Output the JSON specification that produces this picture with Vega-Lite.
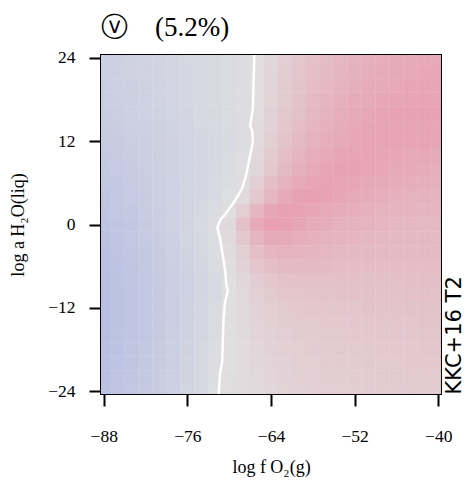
{
"$schema": "https://vega.github.io/schema/vega-lite/v6.json",
"width": 340, "height": 339,
"autosize": {"type": "none"},
"padding": {"left": 101, "top": 55, "right": 26, "bottom": 86},
"background": "white",
"title": {"text": "ⓥ\u2003(5.2%)", "anchor": "start", "frame": "group", "fontSize": 27, "font": "Liberation Serif, DejaVu Sans", "fontWeight": "normal", "color": "black", "offset": 7},
"config": {"view": {"stroke": "black", "strokeWidth": 2}, "axis": {"grid": false, "domain": false, "tickColor": "black", "tickWidth": 2, "tickSize": 12, "labelColor": "black", "labelFont": "Liberation Serif", "labelFontSize": 17.5, "titleColor": "black", "titleFont": "Liberation Serif", "titleFontSize": 18, "titleFontWeight": "normal"}},
"layer": [
{"data": {"values": [
{"x":-88,"y":24,"v":-0.50},{"x":-86,"y":24,"v":-0.47},{"x":-84,"y":24,"v":-0.43},{"x":-82,"y":24,"v":-0.40},{"x":-80,"y":24,"v":-0.36},{"x":-78,"y":24,"v":-0.32},{"x":-76,"y":24,"v":-0.28},{"x":-74,"y":24,"v":-0.24},{"x":-72,"y":24,"v":-0.19},{"x":-70,"y":24,"v":-0.14},{"x":-68,"y":24,"v":-0.08},{"x":-66,"y":24,"v":0.03},{"x":-64,"y":24,"v":0.14},{"x":-62,"y":24,"v":0.26},{"x":-60,"y":24,"v":0.36},{"x":-58,"y":24,"v":0.45},{"x":-56,"y":24,"v":0.53},{"x":-54,"y":24,"v":0.60},{"x":-52,"y":24,"v":0.66},{"x":-50,"y":24,"v":0.71},{"x":-48,"y":24,"v":0.75},{"x":-46,"y":24,"v":0.78},{"x":-44,"y":24,"v":0.80},{"x":-42,"y":24,"v":0.81},{"x":-40,"y":24,"v":0.82},
{"x":-88,"y":22,"v":-0.52},{"x":-86,"y":22,"v":-0.49},{"x":-84,"y":22,"v":-0.45},{"x":-82,"y":22,"v":-0.41},{"x":-80,"y":22,"v":-0.38},{"x":-78,"y":22,"v":-0.34},{"x":-76,"y":22,"v":-0.29},{"x":-74,"y":22,"v":-0.25},{"x":-72,"y":22,"v":-0.20},{"x":-70,"y":22,"v":-0.15},{"x":-68,"y":22,"v":-0.08},{"x":-66,"y":22,"v":0.03},{"x":-64,"y":22,"v":0.16},{"x":-62,"y":22,"v":0.28},{"x":-60,"y":22,"v":0.39},{"x":-58,"y":22,"v":0.48},{"x":-56,"y":22,"v":0.56},{"x":-54,"y":22,"v":0.63},{"x":-52,"y":22,"v":0.69},{"x":-50,"y":22,"v":0.74},{"x":-48,"y":22,"v":0.78},{"x":-46,"y":22,"v":0.81},{"x":-44,"y":22,"v":0.83},{"x":-42,"y":22,"v":0.84},{"x":-40,"y":22,"v":0.84},
{"x":-88,"y":20,"v":-0.54},{"x":-86,"y":20,"v":-0.50},{"x":-84,"y":20,"v":-0.47},{"x":-82,"y":20,"v":-0.43},{"x":-80,"y":20,"v":-0.39},{"x":-78,"y":20,"v":-0.35},{"x":-76,"y":20,"v":-0.30},{"x":-74,"y":20,"v":-0.26},{"x":-72,"y":20,"v":-0.21},{"x":-70,"y":20,"v":-0.15},{"x":-68,"y":20,"v":-0.08},{"x":-66,"y":20,"v":0.03},{"x":-64,"y":20,"v":0.17},{"x":-62,"y":20,"v":0.30},{"x":-60,"y":20,"v":0.41},{"x":-58,"y":20,"v":0.51},{"x":-56,"y":20,"v":0.59},{"x":-54,"y":20,"v":0.66},{"x":-52,"y":20,"v":0.72},{"x":-50,"y":20,"v":0.76},{"x":-48,"y":20,"v":0.80},{"x":-46,"y":20,"v":0.83},{"x":-44,"y":20,"v":0.85},{"x":-42,"y":20,"v":0.86},{"x":-40,"y":20,"v":0.86},
{"x":-88,"y":18,"v":-0.56},{"x":-86,"y":18,"v":-0.52},{"x":-84,"y":18,"v":-0.48},{"x":-82,"y":18,"v":-0.44},{"x":-80,"y":18,"v":-0.40},{"x":-78,"y":18,"v":-0.36},{"x":-76,"y":18,"v":-0.31},{"x":-74,"y":18,"v":-0.27},{"x":-72,"y":18,"v":-0.21},{"x":-70,"y":18,"v":-0.15},{"x":-68,"y":18,"v":-0.08},{"x":-66,"y":18,"v":0.04},{"x":-64,"y":18,"v":0.19},{"x":-62,"y":18,"v":0.33},{"x":-60,"y":18,"v":0.44},{"x":-58,"y":18,"v":0.55},{"x":-56,"y":18,"v":0.63},{"x":-54,"y":18,"v":0.70},{"x":-52,"y":18,"v":0.76},{"x":-50,"y":18,"v":0.80},{"x":-48,"y":18,"v":0.84},{"x":-46,"y":18,"v":0.86},{"x":-44,"y":18,"v":0.88},{"x":-42,"y":18,"v":0.88},{"x":-40,"y":18,"v":0.88},
{"x":-88,"y":16,"v":-0.58},{"x":-86,"y":16,"v":-0.54},{"x":-84,"y":16,"v":-0.50},{"x":-82,"y":16,"v":-0.46},{"x":-80,"y":16,"v":-0.42},{"x":-78,"y":16,"v":-0.37},{"x":-76,"y":16,"v":-0.32},{"x":-74,"y":16,"v":-0.27},{"x":-72,"y":16,"v":-0.22},{"x":-70,"y":16,"v":-0.16},{"x":-68,"y":16,"v":-0.08},{"x":-66,"y":16,"v":0.05},{"x":-64,"y":16,"v":0.20},{"x":-62,"y":16,"v":0.35},{"x":-60,"y":16,"v":0.47},{"x":-58,"y":16,"v":0.58},{"x":-56,"y":16,"v":0.67},{"x":-54,"y":16,"v":0.74},{"x":-52,"y":16,"v":0.80},{"x":-50,"y":16,"v":0.84},{"x":-48,"y":16,"v":0.87},{"x":-46,"y":16,"v":0.89},{"x":-44,"y":16,"v":0.90},{"x":-42,"y":16,"v":0.90},{"x":-40,"y":16,"v":0.89},
{"x":-88,"y":14,"v":-0.61},{"x":-86,"y":14,"v":-0.57},{"x":-84,"y":14,"v":-0.53},{"x":-82,"y":14,"v":-0.48},{"x":-80,"y":14,"v":-0.44},{"x":-78,"y":14,"v":-0.39},{"x":-76,"y":14,"v":-0.34},{"x":-74,"y":14,"v":-0.28},{"x":-72,"y":14,"v":-0.23},{"x":-70,"y":14,"v":-0.16},{"x":-68,"y":14,"v":-0.08},{"x":-66,"y":14,"v":0.06},{"x":-64,"y":14,"v":0.22},{"x":-62,"y":14,"v":0.38},{"x":-60,"y":14,"v":0.51},{"x":-58,"y":14,"v":0.62},{"x":-56,"y":14,"v":0.70},{"x":-54,"y":14,"v":0.77},{"x":-52,"y":14,"v":0.82},{"x":-50,"y":14,"v":0.86},{"x":-48,"y":14,"v":0.88},{"x":-46,"y":14,"v":0.88},{"x":-44,"y":14,"v":0.88},{"x":-42,"y":14,"v":0.88},{"x":-40,"y":14,"v":0.87},
{"x":-88,"y":12,"v":-0.64},{"x":-86,"y":12,"v":-0.60},{"x":-84,"y":12,"v":-0.56},{"x":-82,"y":12,"v":-0.51},{"x":-80,"y":12,"v":-0.46},{"x":-78,"y":12,"v":-0.41},{"x":-76,"y":12,"v":-0.36},{"x":-74,"y":12,"v":-0.30},{"x":-72,"y":12,"v":-0.24},{"x":-70,"y":12,"v":-0.17},{"x":-68,"y":12,"v":-0.08},{"x":-66,"y":12,"v":0.08},{"x":-64,"y":12,"v":0.25},{"x":-62,"y":12,"v":0.42},{"x":-60,"y":12,"v":0.55},{"x":-58,"y":12,"v":0.66},{"x":-56,"y":12,"v":0.74},{"x":-54,"y":12,"v":0.80},{"x":-52,"y":12,"v":0.84},{"x":-50,"y":12,"v":0.87},{"x":-48,"y":12,"v":0.88},{"x":-46,"y":12,"v":0.88},{"x":-44,"y":12,"v":0.87},{"x":-42,"y":12,"v":0.86},{"x":-40,"y":12,"v":0.85},
{"x":-88,"y":10,"v":-0.67},{"x":-86,"y":10,"v":-0.63},{"x":-84,"y":10,"v":-0.58},{"x":-82,"y":10,"v":-0.53},{"x":-80,"y":10,"v":-0.48},{"x":-78,"y":10,"v":-0.42},{"x":-76,"y":10,"v":-0.37},{"x":-74,"y":10,"v":-0.30},{"x":-72,"y":10,"v":-0.24},{"x":-70,"y":10,"v":-0.16},{"x":-68,"y":10,"v":-0.06},{"x":-66,"y":10,"v":0.12},{"x":-64,"y":10,"v":0.30},{"x":-62,"y":10,"v":0.49},{"x":-60,"y":10,"v":0.62},{"x":-58,"y":10,"v":0.73},{"x":-56,"y":10,"v":0.80},{"x":-54,"y":10,"v":0.85},{"x":-52,"y":10,"v":0.87},{"x":-50,"y":10,"v":0.87},{"x":-48,"y":10,"v":0.86},{"x":-46,"y":10,"v":0.84},{"x":-44,"y":10,"v":0.83},{"x":-42,"y":10,"v":0.82},{"x":-40,"y":10,"v":0.80},
{"x":-88,"y":8,"v":-0.71},{"x":-86,"y":8,"v":-0.66},{"x":-84,"y":8,"v":-0.61},{"x":-82,"y":8,"v":-0.55},{"x":-80,"y":8,"v":-0.49},{"x":-78,"y":8,"v":-0.43},{"x":-76,"y":8,"v":-0.37},{"x":-74,"y":8,"v":-0.30},{"x":-72,"y":8,"v":-0.22},{"x":-70,"y":8,"v":-0.13},{"x":-68,"y":8,"v":-0.02},{"x":-66,"y":8,"v":0.15},{"x":-64,"y":8,"v":0.35},{"x":-62,"y":8,"v":0.55},{"x":-60,"y":8,"v":0.70},{"x":-58,"y":8,"v":0.80},{"x":-56,"y":8,"v":0.86},{"x":-54,"y":8,"v":0.89},{"x":-52,"y":8,"v":0.89},{"x":-50,"y":8,"v":0.87},{"x":-48,"y":8,"v":0.84},{"x":-46,"y":8,"v":0.81},{"x":-44,"y":8,"v":0.79},{"x":-42,"y":8,"v":0.77},{"x":-40,"y":8,"v":0.75},
{"x":-88,"y":6,"v":-0.75},{"x":-86,"y":6,"v":-0.69},{"x":-84,"y":6,"v":-0.64},{"x":-82,"y":6,"v":-0.58},{"x":-80,"y":6,"v":-0.51},{"x":-78,"y":6,"v":-0.44},{"x":-76,"y":6,"v":-0.37},{"x":-74,"y":6,"v":-0.29},{"x":-72,"y":6,"v":-0.21},{"x":-70,"y":6,"v":-0.10},{"x":-68,"y":6,"v":0.06},{"x":-66,"y":6,"v":0.25},{"x":-64,"y":6,"v":0.48},{"x":-62,"y":6,"v":0.68},{"x":-60,"y":6,"v":0.80},{"x":-58,"y":6,"v":0.87},{"x":-56,"y":6,"v":0.88},{"x":-54,"y":6,"v":0.87},{"x":-52,"y":6,"v":0.84},{"x":-50,"y":6,"v":0.82},{"x":-48,"y":6,"v":0.78},{"x":-46,"y":6,"v":0.76},{"x":-44,"y":6,"v":0.74},{"x":-42,"y":6,"v":0.72},{"x":-40,"y":6,"v":0.70},
{"x":-88,"y":4,"v":-0.79},{"x":-86,"y":4,"v":-0.73},{"x":-84,"y":4,"v":-0.66},{"x":-82,"y":4,"v":-0.60},{"x":-80,"y":4,"v":-0.53},{"x":-78,"y":4,"v":-0.45},{"x":-76,"y":4,"v":-0.37},{"x":-74,"y":4,"v":-0.29},{"x":-72,"y":4,"v":-0.18},{"x":-70,"y":4,"v":-0.04},{"x":-68,"y":4,"v":0.10},{"x":-66,"y":4,"v":0.35},{"x":-64,"y":4,"v":0.60},{"x":-62,"y":4,"v":0.80},{"x":-60,"y":4,"v":0.90},{"x":-58,"y":4,"v":0.93},{"x":-56,"y":4,"v":0.90},{"x":-54,"y":4,"v":0.85},{"x":-52,"y":4,"v":0.80},{"x":-50,"y":4,"v":0.76},{"x":-48,"y":4,"v":0.73},{"x":-46,"y":4,"v":0.70},{"x":-44,"y":4,"v":0.68},{"x":-42,"y":4,"v":0.66},{"x":-40,"y":4,"v":0.65},
{"x":-88,"y":2,"v":-0.83},{"x":-86,"y":2,"v":-0.76},{"x":-84,"y":2,"v":-0.69},{"x":-82,"y":2,"v":-0.62},{"x":-80,"y":2,"v":-0.54},{"x":-78,"y":2,"v":-0.45},{"x":-76,"y":2,"v":-0.36},{"x":-74,"y":2,"v":-0.26},{"x":-72,"y":2,"v":-0.14},{"x":-70,"y":2,"v":0.05},{"x":-68,"y":2,"v":0.27},{"x":-66,"y":2,"v":0.60},{"x":-64,"y":2,"v":0.85},{"x":-62,"y":2,"v":0.92},{"x":-60,"y":2,"v":0.90},{"x":-58,"y":2,"v":0.86},{"x":-56,"y":2,"v":0.82},{"x":-54,"y":2,"v":0.77},{"x":-52,"y":2,"v":0.73},{"x":-50,"y":2,"v":0.70},{"x":-48,"y":2,"v":0.68},{"x":-46,"y":2,"v":0.66},{"x":-44,"y":2,"v":0.64},{"x":-42,"y":2,"v":0.62},{"x":-40,"y":2,"v":0.62},
{"x":-88,"y":0,"v":-0.87},{"x":-86,"y":0,"v":-0.80},{"x":-84,"y":0,"v":-0.72},{"x":-82,"y":0,"v":-0.63},{"x":-80,"y":0,"v":-0.55},{"x":-78,"y":0,"v":-0.45},{"x":-76,"y":0,"v":-0.35},{"x":-74,"y":0,"v":-0.23},{"x":-72,"y":0,"v":-0.08},{"x":-70,"y":0,"v":0.12},{"x":-68,"y":0,"v":0.45},{"x":-66,"y":0,"v":0.78},{"x":-64,"y":0,"v":0.95},{"x":-62,"y":0,"v":0.92},{"x":-60,"y":0,"v":0.85},{"x":-58,"y":0,"v":0.78},{"x":-56,"y":0,"v":0.73},{"x":-54,"y":0,"v":0.69},{"x":-52,"y":0,"v":0.66},{"x":-50,"y":0,"v":0.64},{"x":-48,"y":0,"v":0.62},{"x":-46,"y":0,"v":0.61},{"x":-44,"y":0,"v":0.60},{"x":-42,"y":0,"v":0.59},{"x":-40,"y":0,"v":0.58},
{"x":-88,"y":-2,"v":-0.90},{"x":-86,"y":-2,"v":-0.82},{"x":-84,"y":-2,"v":-0.74},{"x":-82,"y":-2,"v":-0.66},{"x":-80,"y":-2,"v":-0.57},{"x":-78,"y":-2,"v":-0.47},{"x":-76,"y":-2,"v":-0.37},{"x":-74,"y":-2,"v":-0.25},{"x":-72,"y":-2,"v":-0.10},{"x":-70,"y":-2,"v":0.09},{"x":-68,"y":-2,"v":0.35},{"x":-66,"y":-2,"v":0.63},{"x":-64,"y":-2,"v":0.78},{"x":-62,"y":-2,"v":0.79},{"x":-60,"y":-2,"v":0.75},{"x":-58,"y":-2,"v":0.70},{"x":-56,"y":-2,"v":0.66},{"x":-54,"y":-2,"v":0.64},{"x":-52,"y":-2,"v":0.62},{"x":-50,"y":-2,"v":0.60},{"x":-48,"y":-2,"v":0.58},{"x":-46,"y":-2,"v":0.58},{"x":-44,"y":-2,"v":0.58},{"x":-42,"y":-2,"v":0.57},{"x":-40,"y":-2,"v":0.56},
{"x":-88,"y":-4,"v":-0.93},{"x":-86,"y":-4,"v":-0.85},{"x":-84,"y":-4,"v":-0.77},{"x":-82,"y":-4,"v":-0.69},{"x":-80,"y":-4,"v":-0.60},{"x":-78,"y":-4,"v":-0.50},{"x":-76,"y":-4,"v":-0.40},{"x":-74,"y":-4,"v":-0.28},{"x":-72,"y":-4,"v":-0.13},{"x":-70,"y":-4,"v":0.06},{"x":-68,"y":-4,"v":0.25},{"x":-66,"y":-4,"v":0.48},{"x":-64,"y":-4,"v":0.62},{"x":-62,"y":-4,"v":0.66},{"x":-60,"y":-4,"v":0.65},{"x":-58,"y":-4,"v":0.62},{"x":-56,"y":-4,"v":0.60},{"x":-54,"y":-4,"v":0.58},{"x":-52,"y":-4,"v":0.57},{"x":-50,"y":-4,"v":0.56},{"x":-48,"y":-4,"v":0.55},{"x":-46,"y":-4,"v":0.55},{"x":-44,"y":-4,"v":0.55},{"x":-42,"y":-4,"v":0.55},{"x":-40,"y":-4,"v":0.54},
{"x":-88,"y":-6,"v":-0.95},{"x":-86,"y":-6,"v":-0.87},{"x":-84,"y":-6,"v":-0.79},{"x":-82,"y":-6,"v":-0.71},{"x":-80,"y":-6,"v":-0.62},{"x":-78,"y":-6,"v":-0.52},{"x":-76,"y":-6,"v":-0.42},{"x":-74,"y":-6,"v":-0.30},{"x":-72,"y":-6,"v":-0.16},{"x":-70,"y":-6,"v":0.04},{"x":-68,"y":-6,"v":0.20},{"x":-66,"y":-6,"v":0.38},{"x":-64,"y":-6,"v":0.50},{"x":-62,"y":-6,"v":0.55},{"x":-60,"y":-6,"v":0.56},{"x":-58,"y":-6,"v":0.54},{"x":-56,"y":-6,"v":0.54},{"x":-54,"y":-6,"v":0.52},{"x":-52,"y":-6,"v":0.52},{"x":-50,"y":-6,"v":0.52},{"x":-48,"y":-6,"v":0.51},{"x":-46,"y":-6,"v":0.51},{"x":-44,"y":-6,"v":0.52},{"x":-42,"y":-6,"v":0.52},{"x":-40,"y":-6,"v":0.51},
{"x":-88,"y":-8,"v":-0.97},{"x":-86,"y":-8,"v":-0.89},{"x":-84,"y":-8,"v":-0.81},{"x":-82,"y":-8,"v":-0.73},{"x":-80,"y":-8,"v":-0.64},{"x":-78,"y":-8,"v":-0.54},{"x":-76,"y":-8,"v":-0.44},{"x":-74,"y":-8,"v":-0.32},{"x":-72,"y":-8,"v":-0.19},{"x":-70,"y":-8,"v":0.02},{"x":-68,"y":-8,"v":0.14},{"x":-66,"y":-8,"v":0.28},{"x":-64,"y":-8,"v":0.38},{"x":-62,"y":-8,"v":0.44},{"x":-60,"y":-8,"v":0.46},{"x":-58,"y":-8,"v":0.47},{"x":-56,"y":-8,"v":0.47},{"x":-54,"y":-8,"v":0.47},{"x":-52,"y":-8,"v":0.47},{"x":-50,"y":-8,"v":0.47},{"x":-48,"y":-8,"v":0.47},{"x":-46,"y":-8,"v":0.47},{"x":-44,"y":-8,"v":0.48},{"x":-42,"y":-8,"v":0.48},{"x":-40,"y":-8,"v":0.48},
{"x":-88,"y":-10,"v":-0.99},{"x":-86,"y":-10,"v":-0.91},{"x":-84,"y":-10,"v":-0.83},{"x":-82,"y":-10,"v":-0.74},{"x":-80,"y":-10,"v":-0.65},{"x":-78,"y":-10,"v":-0.55},{"x":-76,"y":-10,"v":-0.44},{"x":-74,"y":-10,"v":-0.33},{"x":-72,"y":-10,"v":-0.19},{"x":-70,"y":-10,"v":0.02},{"x":-68,"y":-10,"v":0.12},{"x":-66,"y":-10,"v":0.24},{"x":-64,"y":-10,"v":0.32},{"x":-62,"y":-10,"v":0.38},{"x":-60,"y":-10,"v":0.40},{"x":-58,"y":-10,"v":0.42},{"x":-56,"y":-10,"v":0.42},{"x":-54,"y":-10,"v":0.43},{"x":-52,"y":-10,"v":0.44},{"x":-50,"y":-10,"v":0.44},{"x":-48,"y":-10,"v":0.44},{"x":-46,"y":-10,"v":0.44},{"x":-44,"y":-10,"v":0.46},{"x":-42,"y":-10,"v":0.46},{"x":-40,"y":-10,"v":0.46},
{"x":-88,"y":-12,"v":-1.00},{"x":-86,"y":-12,"v":-0.92},{"x":-84,"y":-12,"v":-0.83},{"x":-82,"y":-12,"v":-0.74},{"x":-80,"y":-12,"v":-0.65},{"x":-78,"y":-12,"v":-0.54},{"x":-76,"y":-12,"v":-0.43},{"x":-74,"y":-12,"v":-0.31},{"x":-72,"y":-12,"v":-0.16},{"x":-70,"y":-12,"v":0.03},{"x":-68,"y":-12,"v":0.11},{"x":-66,"y":-12,"v":0.20},{"x":-64,"y":-12,"v":0.27},{"x":-62,"y":-12,"v":0.32},{"x":-60,"y":-12,"v":0.35},{"x":-58,"y":-12,"v":0.37},{"x":-56,"y":-12,"v":0.38},{"x":-54,"y":-12,"v":0.39},{"x":-52,"y":-12,"v":0.40},{"x":-50,"y":-12,"v":0.41},{"x":-48,"y":-12,"v":0.42},{"x":-46,"y":-12,"v":0.42},{"x":-44,"y":-12,"v":0.43},{"x":-42,"y":-12,"v":0.43},{"x":-40,"y":-12,"v":0.43},
{"x":-88,"y":-14,"v":-1.00},{"x":-86,"y":-14,"v":-0.92},{"x":-84,"y":-14,"v":-0.83},{"x":-82,"y":-14,"v":-0.74},{"x":-80,"y":-14,"v":-0.64},{"x":-78,"y":-14,"v":-0.54},{"x":-76,"y":-14,"v":-0.43},{"x":-74,"y":-14,"v":-0.30},{"x":-72,"y":-14,"v":-0.14},{"x":-70,"y":-14,"v":0.03},{"x":-68,"y":-14,"v":0.10},{"x":-66,"y":-14,"v":0.18},{"x":-64,"y":-14,"v":0.24},{"x":-62,"y":-14,"v":0.29},{"x":-60,"y":-14,"v":0.32},{"x":-58,"y":-14,"v":0.34},{"x":-56,"y":-14,"v":0.36},{"x":-54,"y":-14,"v":0.36},{"x":-52,"y":-14,"v":0.38},{"x":-50,"y":-14,"v":0.38},{"x":-48,"y":-14,"v":0.40},{"x":-46,"y":-14,"v":0.40},{"x":-44,"y":-14,"v":0.40},{"x":-42,"y":-14,"v":0.41},{"x":-40,"y":-14,"v":0.41},
{"x":-88,"y":-16,"v":-0.99},{"x":-86,"y":-16,"v":-0.91},{"x":-84,"y":-16,"v":-0.82},{"x":-82,"y":-16,"v":-0.73},{"x":-80,"y":-16,"v":-0.63},{"x":-78,"y":-16,"v":-0.53},{"x":-76,"y":-16,"v":-0.42},{"x":-74,"y":-16,"v":-0.29},{"x":-72,"y":-16,"v":-0.14},{"x":-70,"y":-16,"v":0.03},{"x":-68,"y":-16,"v":0.09},{"x":-66,"y":-16,"v":0.16},{"x":-64,"y":-16,"v":0.22},{"x":-62,"y":-16,"v":0.26},{"x":-60,"y":-16,"v":0.29},{"x":-58,"y":-16,"v":0.31},{"x":-56,"y":-16,"v":0.33},{"x":-54,"y":-16,"v":0.34},{"x":-52,"y":-16,"v":0.35},{"x":-50,"y":-16,"v":0.36},{"x":-48,"y":-16,"v":0.37},{"x":-46,"y":-16,"v":0.38},{"x":-44,"y":-16,"v":0.38},{"x":-42,"y":-16,"v":0.39},{"x":-40,"y":-16,"v":0.39},
{"x":-88,"y":-18,"v":-0.97},{"x":-86,"y":-18,"v":-0.89},{"x":-84,"y":-18,"v":-0.80},{"x":-82,"y":-18,"v":-0.71},{"x":-80,"y":-18,"v":-0.62},{"x":-78,"y":-18,"v":-0.52},{"x":-76,"y":-18,"v":-0.41},{"x":-74,"y":-18,"v":-0.28},{"x":-72,"y":-18,"v":-0.12},{"x":-70,"y":-18,"v":0.03},{"x":-68,"y":-18,"v":0.08},{"x":-66,"y":-18,"v":0.14},{"x":-64,"y":-18,"v":0.20},{"x":-62,"y":-18,"v":0.24},{"x":-60,"y":-18,"v":0.27},{"x":-58,"y":-18,"v":0.29},{"x":-56,"y":-18,"v":0.31},{"x":-54,"y":-18,"v":0.32},{"x":-52,"y":-18,"v":0.33},{"x":-50,"y":-18,"v":0.34},{"x":-48,"y":-18,"v":0.35},{"x":-46,"y":-18,"v":0.36},{"x":-44,"y":-18,"v":0.36},{"x":-42,"y":-18,"v":0.37},{"x":-40,"y":-18,"v":0.38},
{"x":-88,"y":-20,"v":-0.96},{"x":-86,"y":-20,"v":-0.88},{"x":-84,"y":-20,"v":-0.79},{"x":-82,"y":-20,"v":-0.70},{"x":-80,"y":-20,"v":-0.61},{"x":-78,"y":-20,"v":-0.51},{"x":-76,"y":-20,"v":-0.40},{"x":-74,"y":-20,"v":-0.27},{"x":-72,"y":-20,"v":-0.11},{"x":-70,"y":-20,"v":0.03},{"x":-68,"y":-20,"v":0.08},{"x":-66,"y":-20,"v":0.13},{"x":-64,"y":-20,"v":0.18},{"x":-62,"y":-20,"v":0.22},{"x":-60,"y":-20,"v":0.25},{"x":-58,"y":-20,"v":0.27},{"x":-56,"y":-20,"v":0.29},{"x":-54,"y":-20,"v":0.30},{"x":-52,"y":-20,"v":0.31},{"x":-50,"y":-20,"v":0.32},{"x":-48,"y":-20,"v":0.33},{"x":-46,"y":-20,"v":0.34},{"x":-44,"y":-20,"v":0.35},{"x":-42,"y":-20,"v":0.35},{"x":-40,"y":-20,"v":0.36},
{"x":-88,"y":-22,"v":-0.94},{"x":-86,"y":-22,"v":-0.86},{"x":-84,"y":-22,"v":-0.77},{"x":-82,"y":-22,"v":-0.69},{"x":-80,"y":-22,"v":-0.59},{"x":-78,"y":-22,"v":-0.49},{"x":-76,"y":-22,"v":-0.38},{"x":-74,"y":-22,"v":-0.26},{"x":-72,"y":-22,"v":-0.09},{"x":-70,"y":-22,"v":0.04},{"x":-68,"y":-22,"v":0.08},{"x":-66,"y":-22,"v":0.12},{"x":-64,"y":-22,"v":0.16},{"x":-62,"y":-22,"v":0.20},{"x":-60,"y":-22,"v":0.24},{"x":-58,"y":-22,"v":0.26},{"x":-56,"y":-22,"v":0.28},{"x":-54,"y":-22,"v":0.28},{"x":-52,"y":-22,"v":0.30},{"x":-50,"y":-22,"v":0.30},{"x":-48,"y":-22,"v":0.32},{"x":-46,"y":-22,"v":0.32},{"x":-44,"y":-22,"v":0.34},{"x":-42,"y":-22,"v":0.34},{"x":-40,"y":-22,"v":0.34},
{"x":-88,"y":-24,"v":-0.92},{"x":-86,"y":-24,"v":-0.84},{"x":-84,"y":-24,"v":-0.76},{"x":-82,"y":-24,"v":-0.67},{"x":-80,"y":-24,"v":-0.58},{"x":-78,"y":-24,"v":-0.48},{"x":-76,"y":-24,"v":-0.37},{"x":-74,"y":-24,"v":-0.24},{"x":-72,"y":-24,"v":-0.07},{"x":-70,"y":-24,"v":0.04},{"x":-68,"y":-24,"v":0.07},{"x":-66,"y":-24,"v":0.11},{"x":-64,"y":-24,"v":0.15},{"x":-62,"y":-24,"v":0.19},{"x":-60,"y":-24,"v":0.22},{"x":-58,"y":-24,"v":0.24},{"x":-56,"y":-24,"v":0.26},{"x":-54,"y":-24,"v":0.27},{"x":-52,"y":-24,"v":0.28},{"x":-50,"y":-24,"v":0.29},{"x":-48,"y":-24,"v":0.30},{"x":-46,"y":-24,"v":0.31},{"x":-44,"y":-24,"v":0.32},{"x":-42,"y":-24,"v":0.32},{"x":-40,"y":-24,"v":0.33}
]},
"mark": {"type": "square", "size": 204, "opacity": 1, "strokeWidth": 0, "clip": true},
"encoding": {
"x": {"field": "x", "type": "quantitative", "scale": {"domain": [-88.4, -39.6], "nice": false, "zero": false}, "axis": {"values": [-88, -76, -64, -52, -40], "title": "log f O₂(g)", "labelPadding": 21, "titlePadding": 14}},
"y": {"field": "y", "type": "quantitative", "scale": {"domain": [-24.4, 24.4], "nice": false, "zero": false}, "axis": {"values": [-24, -12, 0, 12, 24], "title": "log a H₂O(liq)", "labelPadding": 14, "titlePadding": 20}},
"color": {"field": "v", "type": "quantitative", "scale": {"domain": [-1, 0, 1], "range": ["#b8bfe2", "#e0e0e1", "#e89cae"], "interpolate": "rgb"}, "legend": null}
}},
{"data": {"values": [
{"x":-66.4,"y":24.4},{"x":-66.4,"y":23.8},{"x":-66.5,"y":20.4},{"x":-66.6,"y":16.6},{"x":-67.0,"y":14.2},{"x":-66.7,"y":13.5},{"x":-66.6,"y":11.8},{"x":-67.1,"y":9.4},{"x":-67.6,"y":7.0},{"x":-68.2,"y":5.1},{"x":-69.0,"y":3.7},{"x":-69.7,"y":2.7},{"x":-70.7,"y":1.3},{"x":-71.2,"y":0.8},{"x":-71.7,"y":-0.4},{"x":-71.3,"y":-2.1},{"x":-71.0,"y":-4.0},{"x":-70.6,"y":-6.4},{"x":-70.4,"y":-8.8},{"x":-70.2,"y":-9.5},{"x":-70.6,"y":-11.2},{"x":-70.8,"y":-13.6},{"x":-70.9,"y":-16.0},{"x":-71.0,"y":-19.8},{"x":-71.3,"y":-21.2},{"x":-71.5,"y":-24.4}
]},
"mark": {"type": "line", "color": "white", "strokeWidth": 2.5, "clip": true},
"encoding": {
"x": {"field": "x", "type": "quantitative"},
"y": {"field": "y", "type": "quantitative", "axis": {"orient": "right", "title": "KKC+16 T2", "labels": false, "ticks": false, "domain": false, "titleAngle": -90, "titleAnchor": "start", "titleBaseline": "top", "titleFont": "DejaVu Sans", "titleFontSize": 21, "titlePadding": 2, "zindex": 1}},
"order": {"field": "y", "type": "quantitative"}
}}
],
"resolve": {"axis": {"y": "independent"}}
}
